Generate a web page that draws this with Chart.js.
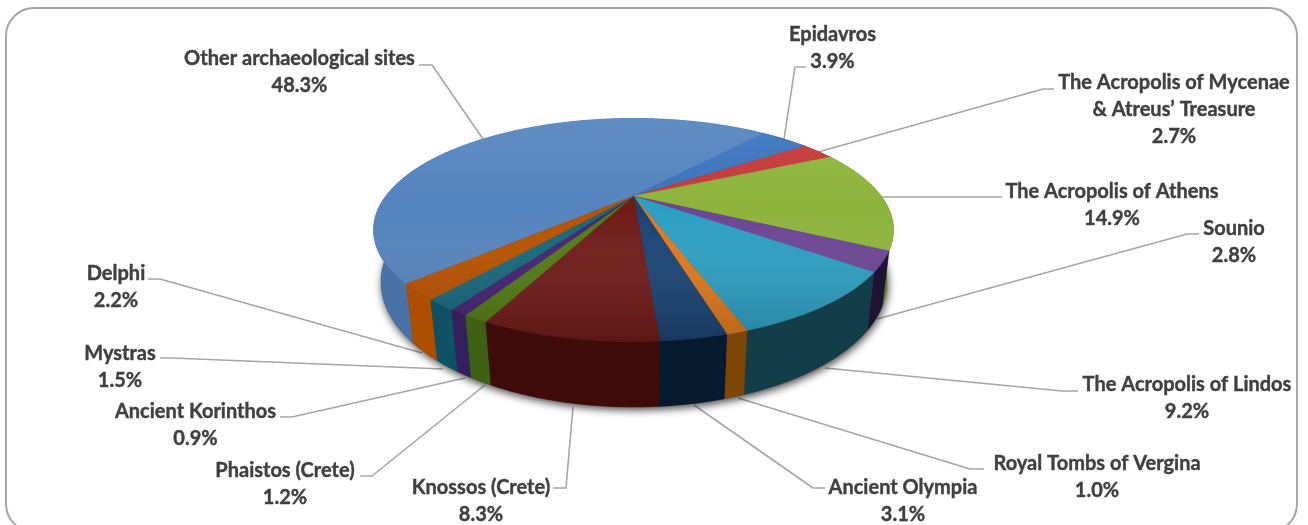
<!DOCTYPE html>
<html><head><meta charset="utf-8">
<style>html,body{margin:0;padding:0;background:#fff}canvas{display:block}</style>
<script src="https://cdn.jsdelivr.net/npm/chart.js@4"></script>
</head><body><canvas id="c" width="1308" height="525"></canvas>
<script>
const categories = ["Other archaeological sites","Epidavros",["The Acropolis of Mycenae","& Atreus’ Treasure"],"The Acropolis of Athens","Sounio","The Acropolis of Lindos","Royal Tombs of Vergina","Ancient Olympia","Knossos (Crete)","Phaistos (Crete)","Ancient Korinthos","Mystras","Delphi"];
const shares = [48.3,3.9,2.7,14.9,2.8,9.2,1.0,3.1,8.3,1.2,0.9,1.5,2.2];
const faceColors = ["#5484BE","#3B74BE","#C4393B","#8EB43C","#6C4595","#2C9FC3","#E0791C","#1B4475","#701B18","#537A14","#442374","#17677B","#B85200"];
const wallColors = ["#4A72A6","#2F5C96","#8C2A2A","#66822B","#1F1235","#143D4A","#7E4606","#061A30","#3F0C09","#3F6114","#34205C","#0F5266","#AE4E00"];
const labelCenters = [[299.5,59],[832.5,35],[1174,83],[1112,192],[1234,229],[1187,385],[1097,464],[903,488],[481,488],[285,471],[195.5,412],[120,354],[116,274]];
const leaders = [
 [[419,65],[432,65],[483,139]],
 [[806,67],[795,67],[784,139]],
 [[1054,89],[1043,89],[818,152]],
 [[1002,197],[882,197]],
 [[1199,234],[1187,234],[877,319]],
 [[1078,391],[1062,391],[825,368]],
 [[984,469],[970,469],[738,398]],
 [[825,488],[813,488],[694,405]],
 [[553,488],[566,488],[573,407]],
 [[360,476],[372,476],[485,385]],
 [[280,417],[292,417],[465,378]],
 [[160,358],[172,358],[443,369]],
 [[148,279],[160,279],[422,353]]
];
const TOP = {cx:633.5, cy:230, rx:260, ry:111.5, a:-0.305};
const BOTTOM = {cx:634, cy:282, rx:253, ry:125, a:-0.30};
const FONT = 'bold 20px Lato';

function rim(e, phi){
  const s = Math.sqrt(1 - e.a*e.a), d = 1 + e.a*Math.sin(phi);
  return [e.cx + e.rx*Math.cos(phi)*s/d, e.cy + e.ry*(Math.sin(phi)+e.a)/d];
}
function apex(e){ return [e.cx, e.cy + e.ry*e.a]; }
function rimPath(ctx, e, a0, a1, first){
  const n = Math.max(2, Math.ceil(Math.abs(a1-a0)/0.012));
  for(let i=0;i<=n;i++){
    const p = rim(e, a0+(a1-a0)*i/n);
    if(i===0 && first) ctx.moveTo(p[0],p[1]); else ctx.lineTo(p[0],p[1]);
  }
}
const pie3d = {
  id:'pie3d',
  beforeDraw(chart){
    const ctx = chart.ctx;
    ctx.save();
    ctx.fillStyle='#fff'; ctx.fillRect(0,0,chart.width,chart.height);
    ctx.strokeStyle='#A6A6A6'; ctx.lineWidth=2;
    ctx.beginPath(); ctx.roundRect(6,8,1291,524,28); ctx.stroke();
    ctx.strokeStyle='#A6A6A6'; ctx.lineWidth=1.6; ctx.lineJoin='round';
    leaders.forEach(l=>{ ctx.beginPath(); l.forEach((p,i)=> i?ctx.lineTo(p[0],p[1]):ctx.moveTo(p[0],p[1])); ctx.stroke(); });
    ctx.restore();
  },
  beforeDatasetsDraw(chart){
    const ctx = chart.ctx, arcs = chart.getDatasetMeta(0).data;
    ctx.save();
    ctx.save();
    ctx.shadowColor='rgba(0,0,0,0.75)'; ctx.shadowBlur=9; ctx.shadowOffsetY=3; ctx.shadowOffsetX=1;
    ctx.fillStyle='#333';
    ctx.beginPath(); ctx.ellipse(BOTTOM.cx,BOTTOM.cy,BOTTOM.rx,BOTTOM.ry,0,0,Math.PI*2); ctx.fill();
    ctx.restore();
    const order = arcs.map((a,i)=>({i,m:Math.sin((a.startAngle+a.endAngle)/2)})).sort((p,q)=>p.m-q.m);
    order.forEach(({i})=>{
      const a = arcs[i];
      ctx.beginPath();
      rimPath(ctx,TOP,a.startAngle,a.endAngle,true);
      rimPath(ctx,BOTTOM,a.endAngle,a.startAngle,false);
      ctx.closePath();
      ctx.fillStyle = wallColors[i];
      ctx.fill();
      ctx.strokeStyle = wallColors[i]; ctx.lineWidth=0.5; ctx.stroke();
    });
    const A = apex(TOP);
    arcs.forEach((a,i)=>{
      ctx.beginPath(); ctx.moveTo(A[0],A[1]);
      rimPath(ctx,TOP,a.startAngle,a.endAngle,false);
      ctx.closePath();
      ctx.fillStyle = faceColors[i]; ctx.fill();
      ctx.strokeStyle = faceColors[i]; ctx.lineWidth=0.5; ctx.stroke();
    });
    const g = ctx.createLinearGradient(0,TOP.cy-TOP.ry,0,TOP.cy+TOP.ry);
    g.addColorStop(0,'rgba(255,255,255,0.07)');
    g.addColorStop(0.4,'rgba(255,255,255,0)');
    g.addColorStop(1,'rgba(0,0,0,0.18)');
    ctx.fillStyle=g;
    ctx.beginPath(); ctx.ellipse(TOP.cx,TOP.cy,TOP.rx,TOP.ry,0,0,Math.PI*2); ctx.fill();
    ctx.restore();
    return false;
  },
  afterDraw(chart){
    const ctx = chart.ctx;
    ctx.save();
    ctx.font = FONT; ctx.fillStyle='#404040'; ctx.strokeStyle='#404040'; ctx.lineWidth=0.4; ctx.textAlign='center'; ctx.textBaseline='middle';
    chart.data.labels.forEach((lab,i)=>{
      const lines = (Array.isArray(lab)?lab:[lab]).concat([chart.data.datasets[0].data[i].toFixed(1)+'%']);
      lines.forEach((t,k)=>{
        ctx.fillText(t,labelCenters[i][0],labelCenters[i][1]+k*27);
        ctx.strokeText(t,labelCenters[i][0],labelCenters[i][1]+k*27);
      });
    });
    ctx.restore();
  }
};
new Chart(document.getElementById('c'),{
  type:'pie',
  data:{labels:categories,datasets:[{data:shares,backgroundColor:faceColors,borderWidth:0}]},
  options:{responsive:false,animation:false,rotation:226.5,plugins:{legend:{display:false},tooltip:{enabled:false}},layout:{padding:0}},
  plugins:[pie3d]
});
</script></body></html>
